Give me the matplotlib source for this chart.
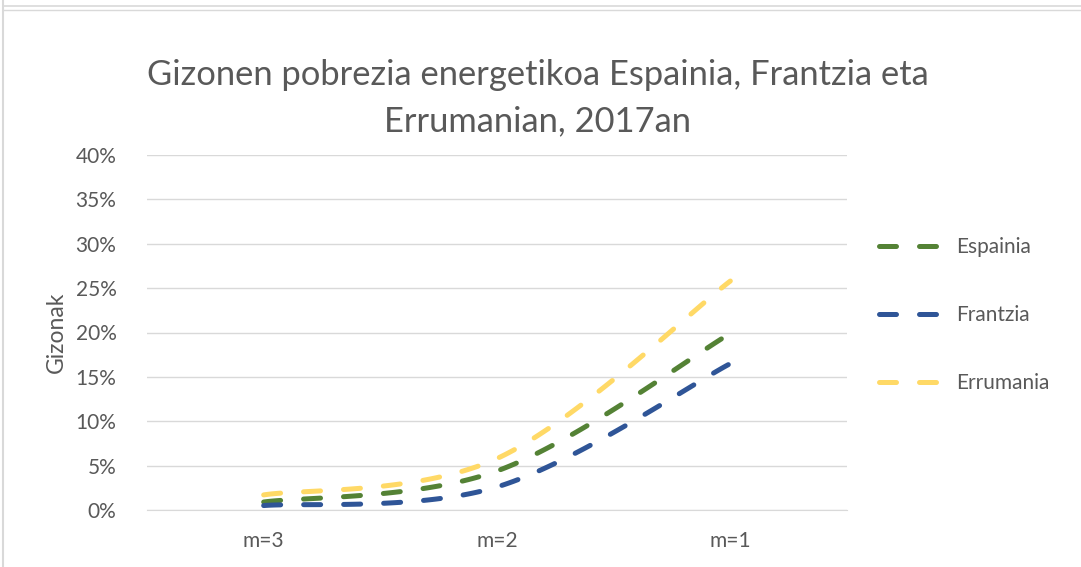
import numpy as np
import matplotlib
matplotlib.use("Agg")
import matplotlib.pyplot as plt
from matplotlib.lines import Line2D

categories = ["m=3", "m=2", "m=1"]
espainia = [0.9, 4.4, 19.9]
frantzia = [0.5, 2.6, 16.5]
errumania = [1.7, 5.8, 25.8]
series_names = ["Espainia", "Frantzia", "Errumania"]
colors = ["#548235", "#2F5597", "#FFD966"]
yticks = [0, 5, 10, 15, 20, 25, 30, 35, 40]
title = "Gizonen pobrezia energetikoa Espainia, Frantzia eta\nErrumanian, 2017an"
ylabel = "Gizonak"

plt.rcParams['font.family'] = ['Lato', 'DejaVu Sans']
TXT = "#595959"

def smooth(y, n=60):
    # Catmull-Rom style smoothing (like Excel's smoothed line)
    x = np.arange(len(y), dtype=float)
    y = np.asarray(y, dtype=float)
    px = np.concatenate([[x[0]], x, [x[-1]]])
    py = np.concatenate([[y[0]], y, [y[-1]]])
    xs, ys = [], []
    for i in range(1, len(px) - 2):
        p0, p1, p2, p3 = (np.array([px[j], py[j]]) for j in (i - 1, i, i + 1, i + 2))
        c1 = p1 + (p2 - p0) / 6.0
        c2 = p2 - (p3 - p1) / 6.0
        t = np.linspace(0, 1, n)[:, None]
        b = ((1 - t) ** 3) * p1 + 3 * ((1 - t) ** 2) * t * c1 + 3 * (1 - t) * t ** 2 * c2 + t ** 3 * p2
        if i > 1:
            b = b[1:]
        xs.append(b[:, 0]); ys.append(b[:, 1])
    return np.concatenate(xs), np.concatenate(ys)

W, H = 1081, 567
fig = plt.figure(figsize=(W / 100, H / 100), dpi=100)
ax = fig.add_axes([147 / W, 1 - 510 / H, 700 / W, 355 / H])

lw = 3.6
for name, vals, c in zip(series_names, [espainia, frantzia, errumania], colors):
    xs, ys = smooth(vals)
    ax.plot(xs, ys, color=c, lw=lw, dashes=(3.4, 4.6), dash_capstyle='round', label=name)

ax.set_xlim(-0.5, len(categories) - 0.5)
ax.set_ylim(0, 40)
ax.set_yticks(yticks)
ax.set_yticklabels([f"{v}%" for v in yticks])
ax.set_xticks(range(len(categories)))
ax.set_xticklabels(categories)
ax.grid(axis='y', color="#D9D9D9", lw=1.0)
ax.set_axisbelow(True)
for s in ax.spines.values():
    s.set_visible(False)
ax.spines['bottom'].set_visible(True)
ax.spines['bottom'].set_color("#D9D9D9")
ax.tick_params(axis='both', length=0, colors=TXT, labelsize=15)
ax.tick_params(axis='y', pad=22)
ax.tick_params(axis='x', pad=15)
ax.set_ylabel(ylabel, color=TXT, fontsize=16.5, labelpad=6)

fig.text(538 / W, 1 - 137 / H, title, ha='center', va='bottom', fontsize=24.8,
         color=TXT, linespacing=1.55)

handles = [Line2D([0], [0], color=c, lw=lw, dashes=(3.4, 4.6), dash_capstyle='round')
           for c in colors]
leg = fig.legend(handles, series_names, loc='upper left', bbox_to_anchor=(871 / W, 1 - 229 / H),
                 frameon=False, fontsize=15, labelcolor=TXT, handlelength=2.95,
                 handletextpad=0.75, labelspacing=2.3, borderaxespad=0, borderpad=0.4)

# chart frame edges
fig.add_artist(Line2D([3 / W, 3 / W], [0, 1], color="#D9D9D9", lw=1.5))
fig.add_artist(Line2D([3 / W, 1], [1 - 6 / H, 1 - 6 / H], color="#D9D9D9", lw=1.2))
fig.add_artist(Line2D([3 / W, 1], [1 - 10 / H, 1 - 10 / H], color="#D9D9D9", lw=1.0))

fig.savefig("out.png", dpi=100)
